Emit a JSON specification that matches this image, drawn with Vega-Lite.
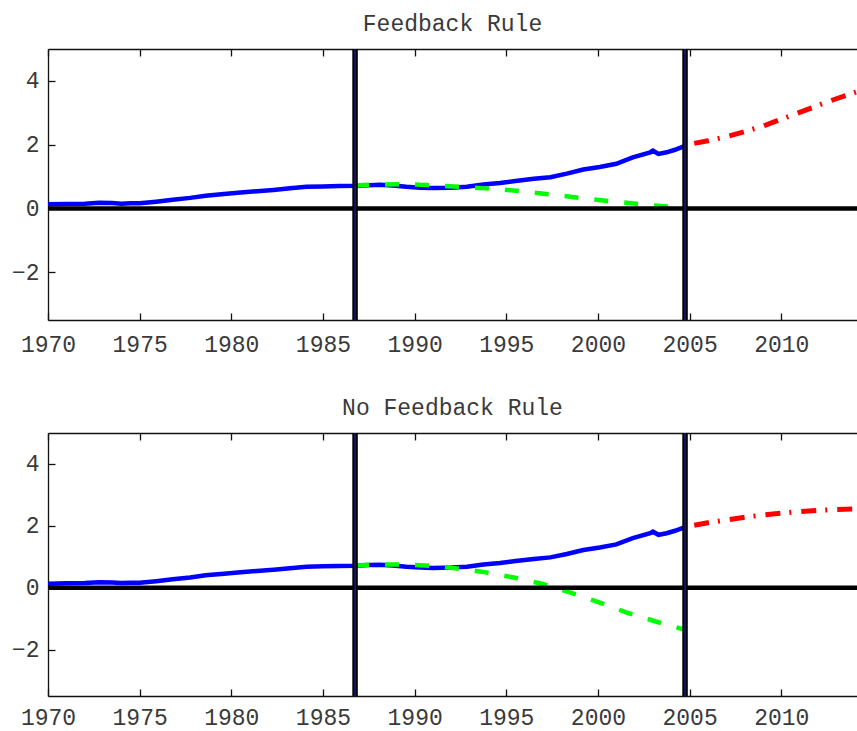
{
  "$schema": "https://vega.github.io/schema/vega-lite/v6.json",
  "background": "white",
  "padding": {"left": 0, "top": 13, "right": 0, "bottom": 0},
  "spacing": 35,
  "config": {
    "view": {"stroke": null},
    "font": "Liberation Mono",
    "axis": {
      "labelFont": "Liberation Mono",
      "labelFontSize": 23,
      "labelColor": "#3a3a3a",
      "labelFlush": false,
      "labelOverlap": false,
      "domainColor": "#111",
      "domainWidth": 1.3,
      "tickColor": "#111",
      "tickWidth": 1.3,
      "tickSize": -7,
      "grid": false,
      "title": null
    },
    "title": {"font": "Liberation Mono", "fontSize": 23, "fontWeight": "normal", "color": "#3a3a3a", "anchor": "middle", "offset": 10}
  },
  "datasets": {
    "blue": [
      {"year": 1970.0, "value": 0.13}, {"year": 1971.0, "value": 0.14}, {"year": 1972.0, "value": 0.15},
      {"year": 1972.8, "value": 0.18}, {"year": 1973.5, "value": 0.17}, {"year": 1974.0, "value": 0.15},
      {"year": 1974.5, "value": 0.16}, {"year": 1975.0, "value": 0.16}, {"year": 1975.9, "value": 0.21},
      {"year": 1976.8, "value": 0.27}, {"year": 1977.75, "value": 0.33}, {"year": 1978.6, "value": 0.40},
      {"year": 1979.6, "value": 0.45}, {"year": 1980.5, "value": 0.50}, {"year": 1981.4, "value": 0.54},
      {"year": 1982.3, "value": 0.58}, {"year": 1983.2, "value": 0.63}, {"year": 1984.1, "value": 0.68},
      {"year": 1985.0, "value": 0.69}, {"year": 1985.9, "value": 0.70}, {"year": 1986.75, "value": 0.71},
      {"year": 1987.5, "value": 0.73}, {"year": 1988.1, "value": 0.74}, {"year": 1988.8, "value": 0.72},
      {"year": 1989.55, "value": 0.68}, {"year": 1990.3, "value": 0.65}, {"year": 1991.0, "value": 0.64},
      {"year": 1992.0, "value": 0.65}, {"year": 1992.85, "value": 0.68}, {"year": 1993.75, "value": 0.75},
      {"year": 1994.65, "value": 0.80}, {"year": 1995.5, "value": 0.86}, {"year": 1996.5, "value": 0.93},
      {"year": 1997.4, "value": 0.98}, {"year": 1998.3, "value": 1.09}, {"year": 1999.2, "value": 1.22},
      {"year": 2000.1, "value": 1.30}, {"year": 2001.0, "value": 1.40}, {"year": 2001.9, "value": 1.60},
      {"year": 2002.85, "value": 1.76}, {"year": 2003.0, "value": 1.81}, {"year": 2003.3, "value": 1.71},
      {"year": 2003.75, "value": 1.76}, {"year": 2004.2, "value": 1.84}, {"year": 2004.75, "value": 1.96}
    ],
    "greenFb": [
      {"year": 1986.75, "value": 0.72}, {"year": 1988.0, "value": 0.75}, {"year": 1989.6, "value": 0.76},
      {"year": 1991.2, "value": 0.72}, {"year": 1993.0, "value": 0.66}, {"year": 1994.6, "value": 0.60},
      {"year": 1996.3, "value": 0.51}, {"year": 1998.0, "value": 0.40}, {"year": 1999.6, "value": 0.29},
      {"year": 2001.3, "value": 0.19}, {"year": 2002.9, "value": 0.10}, {"year": 2004.75, "value": 0.02}
    ],
    "greenNoFb": [
      {"year": 1986.75, "value": 0.72}, {"year": 1988.0, "value": 0.75}, {"year": 1989.6, "value": 0.75},
      {"year": 1991.0, "value": 0.70}, {"year": 1992.1, "value": 0.64}, {"year": 1993.75, "value": 0.51},
      {"year": 1995.4, "value": 0.33}, {"year": 1997.0, "value": 0.12}, {"year": 1998.5, "value": -0.16},
      {"year": 2000.1, "value": -0.48}, {"year": 2001.6, "value": -0.81}, {"year": 2003.2, "value": -1.10},
      {"year": 2004.75, "value": -1.36}
    ],
    "redFb": [
      {"year": 2005.25, "value": 2.04}, {"year": 2006.0, "value": 2.12}, {"year": 2007.0, "value": 2.25},
      {"year": 2008.0, "value": 2.41}, {"year": 2009.0, "value": 2.58}, {"year": 2010.0, "value": 2.80},
      {"year": 2011.0, "value": 3.01}, {"year": 2012.0, "value": 3.23}, {"year": 2013.0, "value": 3.44},
      {"year": 2014.13, "value": 3.66}
    ],
    "redNoFb": [
      {"year": 2005.25, "value": 2.02}, {"year": 2006.0, "value": 2.10}, {"year": 2007.0, "value": 2.19},
      {"year": 2008.0, "value": 2.28}, {"year": 2009.0, "value": 2.35}, {"year": 2010.0, "value": 2.41},
      {"year": 2011.0, "value": 2.46}, {"year": 2012.0, "value": 2.50}, {"year": 2013.0, "value": 2.53},
      {"year": 2014.13, "value": 2.55}
    ],
    "vlines": [{"year": 1986.75}, {"year": 2004.75}],
    "zero": [{"value": 0}]
  },
  "vconcat": [
    {
      "title": "Feedback Rule",
      "width": 809,
      "height": 271,
      "resolve": {"axis": {"x": "independent"}},
      "layer": [
        {
          "data": {"name": "blue"},
          "mark": {"type": "line", "color": "#0000ff", "strokeWidth": 4.5},
          "encoding": {
            "x": {"field": "year", "type": "quantitative", "scale": {"domain": [1970, 2014.13], "nice": false, "zero": false},
                  "axis": {"orient": "bottom", "values": [1970, 1975, 1980, 1985, 1990, 1995, 2000, 2005, 2010], "format": "d", "labelPadding": 20, "minExtent": 42, "maxExtent": 42}},
            "y": {"field": "value", "type": "quantitative", "scale": {"domain": [-3.5, 5], "nice": false, "zero": false},
                  "axis": {"values": [-2, 0, 2, 4], "labelPadding": 16, "minExtent": 48, "maxExtent": 48}}
          }
        },
        {
          "data": {"name": "greenFb"},
          "mark": {"type": "line", "color": "#00ff00", "strokeWidth": 4.5, "strokeDash": [14, 16]},
          "encoding": {
            "x": {"field": "year", "type": "quantitative",
                  "axis": {"orient": "top", "labels": false, "values": [1970, 1975, 1980, 1985, 1990, 1995, 2000, 2005, 2010], "minExtent": 0, "maxExtent": 0}},
            "y": {"field": "value", "type": "quantitative"}
          }
        },
        {
          "data": {"name": "redFb"},
          "mark": {"type": "line", "color": "#ff0000", "strokeWidth": 5, "strokeDash": [15, 9, 2, 10]},
          "encoding": {
            "x": {"field": "year", "type": "quantitative", "axis": null},
            "y": {"field": "value", "type": "quantitative"}
          }
        },
        {
          "data": {"name": "zero"},
          "mark": {"type": "rule", "color": "#000000", "strokeWidth": 4.5},
          "encoding": {"y": {"field": "value", "type": "quantitative"}}
        },
        {
          "data": {"name": "vlines"},
          "mark": {"type": "rule", "color": "#000000", "strokeWidth": 5.5},
          "encoding": {"x": {"field": "year", "type": "quantitative", "axis": null}}
        },
        {
          "data": {"name": "vlines"},
          "mark": {"type": "rule", "color": "#141460", "strokeWidth": 2},
          "encoding": {"x": {"field": "year", "type": "quantitative", "axis": null}}
        }
      ]
    },
    {
      "title": "No Feedback Rule",
      "width": 809,
      "height": 263,
      "resolve": {"axis": {"x": "independent"}},
      "layer": [
        {
          "data": {"name": "blue"},
          "mark": {"type": "line", "color": "#0000ff", "strokeWidth": 4.5},
          "encoding": {
            "x": {"field": "year", "type": "quantitative", "scale": {"domain": [1970, 2014.13], "nice": false, "zero": false},
                  "axis": {"orient": "bottom", "values": [1970, 1975, 1980, 1985, 1990, 1995, 2000, 2005, 2010], "format": "d", "labelPadding": 17, "minExtent": 35, "maxExtent": 35}},
            "y": {"field": "value", "type": "quantitative", "scale": {"domain": [-3.5, 5], "nice": false, "zero": false},
                  "axis": {"values": [-2, 0, 2, 4], "labelPadding": 16, "minExtent": 48, "maxExtent": 48}}
          }
        },
        {
          "data": {"name": "greenNoFb"},
          "mark": {"type": "line", "color": "#00ff00", "strokeWidth": 4.5, "strokeDash": [14, 16]},
          "encoding": {
            "x": {"field": "year", "type": "quantitative",
                  "axis": {"orient": "top", "labels": false, "values": [1970, 1975, 1980, 1985, 1990, 1995, 2000, 2005, 2010], "minExtent": 0, "maxExtent": 0}},
            "y": {"field": "value", "type": "quantitative"}
          }
        },
        {
          "data": {"name": "redNoFb"},
          "mark": {"type": "line", "color": "#ff0000", "strokeWidth": 5, "strokeDash": [15, 9, 2, 10]},
          "encoding": {
            "x": {"field": "year", "type": "quantitative", "axis": null},
            "y": {"field": "value", "type": "quantitative"}
          }
        },
        {
          "data": {"name": "zero"},
          "mark": {"type": "rule", "color": "#000000", "strokeWidth": 4.5},
          "encoding": {"y": {"field": "value", "type": "quantitative"}}
        },
        {
          "data": {"name": "vlines"},
          "mark": {"type": "rule", "color": "#000000", "strokeWidth": 5.5},
          "encoding": {"x": {"field": "year", "type": "quantitative", "axis": null}}
        },
        {
          "data": {"name": "vlines"},
          "mark": {"type": "rule", "color": "#141460", "strokeWidth": 2},
          "encoding": {"x": {"field": "year", "type": "quantitative", "axis": null}}
        }
      ]
    }
  ]
}
